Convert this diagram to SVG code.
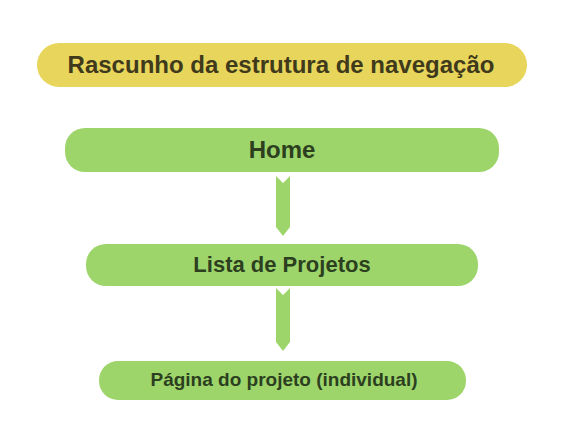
<svg xmlns="http://www.w3.org/2000/svg" width="569" height="447" viewBox="0 0 569 447">
<style>
.t{font-family:"Liberation Sans",Arial,sans-serif;font-weight:bold;text-anchor:middle;dominant-baseline:central}
.g{fill:#9dd56b}
.gt{fill:#2c3f1f}
</style>
<rect width="569" height="447" fill="#ffffff"/>
<g id="title">
<rect x="37" y="43" width="490" height="44" rx="22" fill="#e8d55c"/>
<text class="t" x="281" y="64" font-size="24" fill="#3f3a1b">Rascunho da estrutura de navegação</text>
</g>
<g id="home">
<rect class="g" x="65" y="128" width="434" height="44" rx="20"/>
<text class="t gt" x="282" y="149" font-size="24">Home</text>
</g>
<g id="lista">
<rect class="g" x="86" y="244" width="392" height="42" rx="20"/>
<text class="t gt" x="282" y="264" font-size="22">Lista de Projetos</text>
</g>
<g id="pagina">
<rect class="g" x="99" y="361" width="367" height="39" rx="19"/>
<text class="t gt" x="284" y="379" font-size="19">Página do projeto (individual)</text>
</g>
<g id="connectors" fill="#9dd56b">
<path d="M276 176 L283 183 L290 176 L290 227 L283 236 L276 227 Z"/>
<path d="M276 288 L283 295 L290 288 L290 342 L283 351 L276 342 Z"/>
</g>
</svg>
